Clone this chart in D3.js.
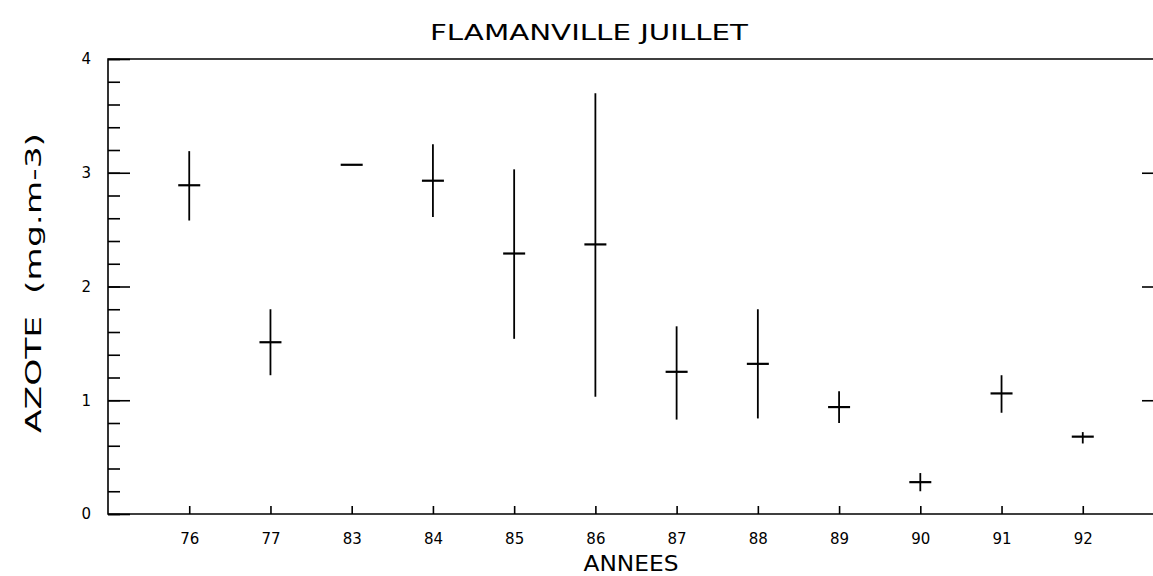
<script src="https://d3js.org/d3.v7.min.js"></script>
<style>
  html, body { margin: 0; padding: 0; background: #fff; overflow: hidden; }
  svg { display: block; }
  text { font-family: "DejaVu Sans", sans-serif; fill: #000; }
</style>
<div id="container"></div>

<script type="text/javascript">

var width = 1153, height = 576;

var years = ["76","77","83","84","85","86","87","88","89","90","91","92"];
var means = [2.89, 1.51, 3.07, 2.93, 2.29, 2.37, 1.25, 1.32, 0.94, 0.28, 1.06, 0.68];
var highs = [3.19, 1.80, 3.07, 3.25, 3.03, 3.70, 1.65, 1.80, 1.08, 0.36, 1.22, 0.72];
var lows  = [2.58, 1.22, 3.07, 2.61, 1.54, 1.03, 0.83, 0.84, 0.80, 0.20, 0.89, 0.62];
var yMajor = [0, 1, 2, 3, 4];
var yMinor = d3.range(0, 4.01, 0.2);

// plot box (right edge runs past the window, like the scan)
var boxL = 108, boxR = 1164, boxT = 59, boxB = 514;

var svg = d3.select('#container')
  .append('svg')
  .attr('width', width)
  .attr('height', height);

var x = d3.scalePoint().domain(years).range([boxL, boxR]).padding(1);
var y = d3.scaleLinear().domain([0, 4]).range([boxB, boxT]);

// frame: top, left, bottom (right side is off the page)
svg.append('path')
  .attr('d', 'M' + width + ',' + boxT + 'H' + boxL + 'V' + boxB + 'H' + width)
  .attr('fill', 'none').attr('stroke', '#000').attr('stroke-width', 1.6);

// left axis: minor + major ticks pointing inward, labels outside
svg.append('g').attr('transform', 'translate(' + boxL + ',0)')
  .call(d3.axisRight(y).tickValues(yMinor).tickSize(12).tickFormat(''));
svg.append('g').attr('transform', 'translate(' + boxL + ',0)')
  .call(d3.axisRight(y).tickValues(yMajor).tickSize(22).tickFormat(''));
svg.append('g').attr('transform', 'translate(' + boxL + ',0)')
  .call(d3.axisLeft(y).tickValues(yMajor).tickSize(0).tickPadding(17).tickFormat(d3.format('d')));

// right axis ticks
svg.append('g').attr('transform', 'translate(' + boxR + ',0)')
  .call(d3.axisLeft(y).tickValues([1, 2, 3]).tickSize(22).tickFormat(''));

// bottom axis
svg.append('g').attr('transform', 'translate(0,' + boxB + ')')
  .call(d3.axisTop(x).tickSize(8).tickFormat(''));
svg.append('g').attr('transform', 'translate(0,' + boxB + ')')
  .call(d3.axisBottom(x).tickSize(0).tickPadding(19));

svg.selectAll('.domain').remove();
svg.selectAll('.tick line').attr('stroke', '#000').attr('stroke-width', 1.6);
svg.selectAll('.tick text').style('font-size', '15px').attr('fill', '#000');

// error bars
var data = years.map((d, i) => ({year: d, m: means[i], hi: highs[i], lo: lows[i]}));

var g = svg.append('g').attr('stroke', '#000');
g.selectAll('line.v')
  .data(data.filter(d => d.hi > d.lo))
  .enter().append('line')
  .attr('class', 'v')
  .attr('x1', d => x(d.year)).attr('x2', d => x(d.year))
  .attr('y1', d => y(d.hi)).attr('y2', d => y(d.lo))
  .attr('stroke-width', 1.8);
g.selectAll('line.h')
  .data(data)
  .enter().append('line')
  .attr('class', 'h')
  .attr('x1', d => x(d.year) - 11).attr('x2', d => x(d.year) + 11)
  .attr('y1', d => y(d.m)).attr('y2', d => y(d.m))
  .attr('stroke-width', 2.2);

// titles
svg.append('text')
  .attr('x', 589).attr('y', 40)
  .attr('text-anchor', 'middle')
  .attr('textLength', 318).attr('lengthAdjust', 'spacingAndGlyphs')
  .style('font-size', '22px')
  .text('FLAMANVILLE JUILLET');

svg.append('text')
  .attr('x', 631).attr('y', 571)
  .attr('text-anchor', 'middle')
  .attr('textLength', 95).attr('lengthAdjust', 'spacingAndGlyphs')
  .style('font-size', '21px')
  .text('ANNEES');

svg.append('text')
  .attr('transform', 'translate(41,283) rotate(-90)')
  .attr('text-anchor', 'middle')
  .attr('textLength', 300).attr('lengthAdjust', 'spacingAndGlyphs')
  .style('font-size', '22px')
  .style('white-space', 'pre')
  .text('AZOTE  (mg.m-3)');

</script>
